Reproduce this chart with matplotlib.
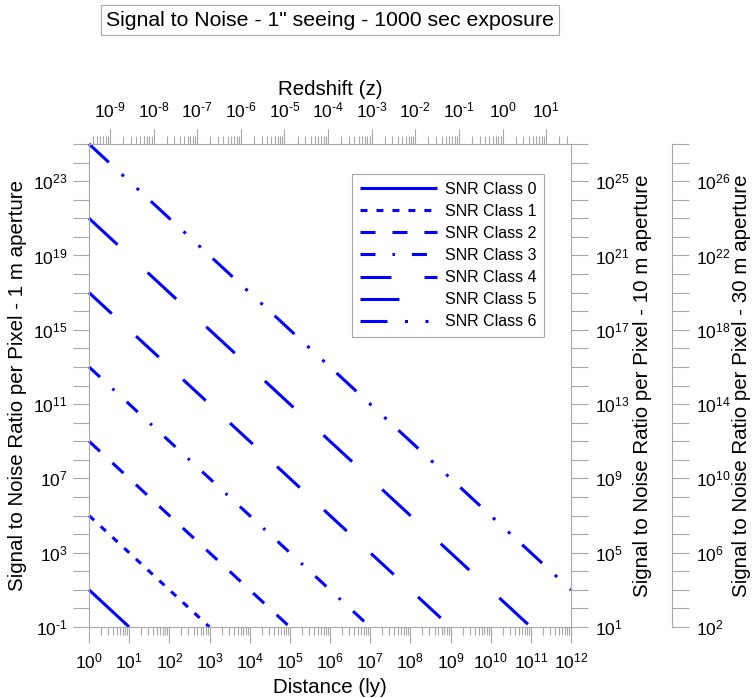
import numpy as np
import matplotlib
matplotlib.use("Agg")
import matplotlib.pyplot as plt
from matplotlib.ticker import FixedLocator, NullLocator, NullFormatter

plt.rcParams['font.family'] = ['Liberation Sans', 'DejaVu Sans']
plt.rcParams['mathtext.fontset'] = 'custom'
plt.rcParams['mathtext.rm'] = 'Liberation Sans'
plt.rcParams['mathtext.it'] = 'Liberation Sans:italic'
plt.rcParams['mathtext.bf'] = 'Liberation Sans:bold'
plt.rcParams['lines.scale_dashes'] = False

GRAY = '#a8a8a8'
BLUE = '#0000ff'

# data (each class is a straight line in log-log)
classes = ["SNR Class 0", "SNR Class 1", "SNR Class 2", "SNR Class 3",
           "SNR Class 4", "SNR Class 5", "SNR Class 6"]
dist_start = [1e0, 1e0, 1e0, 1e0, 1e0, 1e0, 1e0]
snr_start = [1e1, 1e5, 1e9, 1e13, 1e17, 1e21, 1e25]
dist_end = [1e1, 1e3, 1e5, 1e7, 1e9, 1e11, 1e12]
snr_end = [1e-1, 1e-1, 1e-1, 1e-1, 1e-1, 1e-1, 1e1]

# axis ranges
dist_exp = list(range(0, 13))
snr1_exp = list(range(-1, 26))
snr10_exp = list(range(1, 28))
snr30_exp = list(range(2, 29))
z_exp = list(range(-9, 2))
z_lim = (10 ** -9.48, 10 ** 1.57)

# dash patterns in points
dashes = [None,
          (5, 6.5),
          (10.8, 12.2),
          (10.8, 12.2, 1.8, 12.2),
          (22.3, 23.8),
          (28, 29.5),
          (19.44, 12.6, 2.16, 12.6, 2.16, 11.74)]

TICK_FS = 12.5
LABEL_FS = 14.8


def exp_label(e):
    if e < 0:
        return r"$10^{\text{-%d}}$" % (-e)
    return "$10^{%d}$" % e


def decade_ticks(axis, exps, every, first):
    axis.set_major_locator(FixedLocator([10.0 ** e for e in exps]))
    axis.set_minor_locator(NullLocator())
    labels = [exp_label(e) if (e - first) % every == 0 else "" for e in exps]
    axis.set_ticklabels(labels)


W, H = 752, 698
fig = plt.figure(figsize=(W / 100, H / 100), dpi=100)
ax = fig.add_axes([89 / W, 71 / H, 482 / W, 483 / H])
ax.set_xscale('log')
ax.set_yscale('log')
ax.set_xlim(10.0 ** dist_exp[0], 10.0 ** dist_exp[-1])
ax.set_ylim(10.0 ** snr1_exp[0], 10.0 ** snr1_exp[-1])

for i, name in enumerate(classes):
    line, = ax.plot([dist_start[i], dist_end[i]], [snr_start[i], snr_end[i]],
                    color=BLUE, lw=2.2, label=name, clip_on=False,
                    solid_capstyle='butt', dash_capstyle='butt')
    if dashes[i] is not None:
        line.set_dashes(dashes[i])

# bottom axis - distance
ax.xaxis.set_major_locator(FixedLocator([10.0 ** e for e in dist_exp]))
ax.xaxis.set_minor_locator(FixedLocator(
    [k * 10.0 ** e for e in dist_exp[:-1] for k in range(2, 10)]))
ax.xaxis.set_minor_formatter(NullFormatter())
ax.set_xticklabels([exp_label(e) for e in dist_exp])
decade_ticks(ax.yaxis, snr1_exp, 4, -1)

for a in ['top', 'right']:
    ax.spines[a].set_visible(False)
for a in ['left', 'bottom']:
    ax.spines[a].set_color(GRAY)
ax.tick_params(which='major', direction='out', length=11.5, width=0.8,
               color=GRAY, labelsize=TICK_FS, pad=4)
ax.tick_params(axis='x', which='major', pad=6)
ax.tick_params(which='minor', direction='out', length=6, width=0.8, color=GRAY)
ax.set_xlabel("Distance (ly)", fontsize=LABEL_FS, labelpad=5)
ax.set_ylabel("Signal to Noise Ratio per Pixel - 1 m aperture", fontsize=LABEL_FS, labelpad=4)

# top axis - redshift
axz = ax.twiny()
axz.set_xscale('log')
axz.set_xlim(*z_lim)
axz.xaxis.set_major_locator(FixedLocator([10.0 ** e for e in z_exp]))
axz.xaxis.set_minor_locator(FixedLocator(
    [k * 10.0 ** e for e in range(-10, 2) for k in range(2, 10)]))
axz.xaxis.set_minor_formatter(NullFormatter())
axz.set_xticklabels([exp_label(e) for e in z_exp])
for a in ['left', 'right', 'bottom']:
    axz.spines[a].set_visible(False)
axz.spines['top'].set_color(GRAY)
axz.tick_params(which='major', direction='out', length=11, width=0.8,
                color=GRAY, labelsize=TICK_FS, pad=6)
axz.tick_params(which='minor', direction='out', length=5.5, width=0.8, color=GRAY)
axz.set_xlabel("Redshift (z)", fontsize=LABEL_FS, labelpad=4)

# right axis - 10 m aperture
ax10 = ax.twinx()
ax10.set_yscale('log')
ax10.set_ylim(10.0 ** snr10_exp[0], 10.0 ** snr10_exp[-1])
decade_ticks(ax10.yaxis, snr10_exp, 4, 1)
for a in ['left', 'top', 'bottom']:
    ax10.spines[a].set_visible(False)
ax10.spines['right'].set_color(GRAY)
ax10.tick_params(which='major', direction='out', length=12, width=0.8,
                 color=GRAY, labelsize=TICK_FS, pad=5)
ax10.set_ylabel("Signal to Noise Ratio per Pixel - 10 m aperture", fontsize=LABEL_FS, labelpad=3)

# right axis - 30 m aperture
ax30 = ax.twinx()
ax30.set_yscale('log')
ax30.set_ylim(10.0 ** snr30_exp[0], 10.0 ** snr30_exp[-1])
ax30.spines['right'].set_position(('axes', (672 - 89) / 482))
decade_ticks(ax30.yaxis, snr30_exp, 4, 2)
for a in ['left', 'top', 'bottom']:
    ax30.spines[a].set_visible(False)
ax30.spines['right'].set_color(GRAY)
ax30.tick_params(which='major', direction='out', length=12, width=0.8,
                 color=GRAY, labelsize=TICK_FS, pad=5)
ax30.set_ylabel("Signal to Noise Ratio per Pixel - 30 m aperture", fontsize=LABEL_FS, labelpad=1)

leg = ax.legend(loc='upper left', bbox_to_anchor=(352 / W, 1 - 174 / H),
                bbox_transform=fig.transFigure, fontsize=11.5, frameon=True,
                fancybox=False, framealpha=1, edgecolor=GRAY, borderpad=0.5,
                handlelength=4.85, handletextpad=0.45, labelspacing=0.44,
                borderaxespad=0)
leg.get_frame().set_linewidth(0.8)

fig.text(330 / W, 1 - 20 / H, "Signal to Noise - 1\" seeing - 1000 sec exposure",
         ha='center', va='center', fontsize=15.3,
         bbox=dict(boxstyle='square,pad=0.25', fc='white', ec=GRAY, lw=0.8))

fig.savefig("out.png", dpi=100)
